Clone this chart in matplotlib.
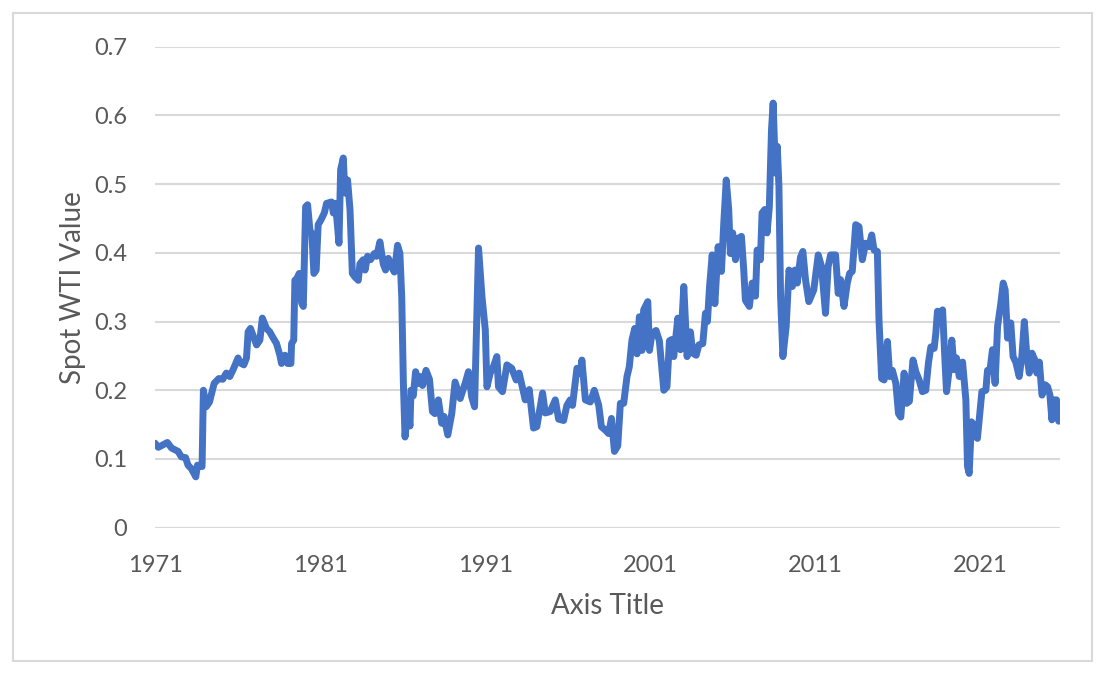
import matplotlib
matplotlib.use("Agg")
import matplotlib.pyplot as plt
from matplotlib.patches import Rectangle

# valores (ano decimal, valor)
years_70s = [1971.0, 1971.2, 1971.75, 1972.0, 1972.4, 1972.6, 1972.85, 1973.0, 1973.2, 1973.47,
             1973.57, 1973.85, 1973.93, 1974.1, 1974.3, 1974.58, 1974.86, 1975.1, 1975.32, 1975.53,
             1975.73, 1976.03, 1976.15, 1976.38, 1976.54, 1976.64, 1976.78, 1977.15, 1977.35, 1977.5,
             1977.75, 1977.95, 1978.11, 1978.36, 1978.56, 1978.66, 1978.87, 1979.03, 1979.23, 1979.27,
             1979.4, 1979.47, 1979.6, 1979.73, 1979.88, 1979.98]
values_70s = [0.123, 0.117, 0.124, 0.116, 0.111, 0.103, 0.102, 0.091, 0.086, 0.074,
              0.091, 0.089, 0.200, 0.176, 0.183, 0.210, 0.217, 0.216, 0.225, 0.220,
              0.230, 0.247, 0.240, 0.237, 0.247, 0.285, 0.290, 0.266, 0.273, 0.305,
              0.290, 0.285, 0.278, 0.268, 0.251, 0.239, 0.251, 0.239, 0.239, 0.268,
              0.273, 0.360, 0.363, 0.370, 0.327, 0.322]

years_80s = [1980.12, 1980.24, 1980.38, 1980.5, 1980.62, 1980.76, 1980.88, 1981.05, 1981.25, 1981.39,
             1981.69, 1981.8, 1981.9, 1982.0, 1982.14, 1982.24, 1982.4, 1982.5, 1982.66, 1982.81,
             1982.95, 1983.1, 1983.31, 1983.41, 1983.61, 1983.72, 1983.87, 1984.05, 1984.28, 1984.42,
             1984.62, 1984.82, 1984.96, 1985.13, 1985.33, 1985.49, 1985.69, 1985.83, 1985.94, 1986.04,
             1986.14, 1986.3, 1986.44, 1986.5, 1986.64, 1986.78, 1986.95, 1987.05, 1987.2, 1987.41,
             1987.62, 1987.8, 1987.95, 1988.16, 1988.36, 1988.5, 1988.73, 1988.97, 1989.17, 1989.48,
             1989.78, 1989.98]
values_80s = [0.467, 0.470, 0.433, 0.428, 0.370, 0.375, 0.441, 0.448, 0.458, 0.472,
              0.474, 0.458, 0.472, 0.453, 0.414, 0.521, 0.538, 0.487, 0.506, 0.462,
              0.370, 0.365, 0.360, 0.384, 0.390, 0.375, 0.395, 0.390, 0.399, 0.395,
              0.416, 0.384, 0.375, 0.392, 0.380, 0.372, 0.411, 0.399, 0.336, 0.210,
              0.132, 0.172, 0.148, 0.200, 0.192, 0.227, 0.210, 0.220, 0.207, 0.229,
              0.216, 0.169, 0.166, 0.186, 0.152, 0.162, 0.135, 0.166, 0.212, 0.188,
              0.210, 0.227]

years_90s = [1990.18, 1990.35, 1990.59, 1990.8, 1991.0, 1991.1, 1991.3, 1991.5, 1991.7, 1991.8,
             1992.04, 1992.31, 1992.6, 1992.87, 1993.05, 1993.42, 1993.66, 1993.92, 1994.12, 1994.47,
             1994.63, 1994.93, 1995.24, 1995.44, 1995.74, 1995.94, 1996.14, 1996.28, 1996.55, 1996.75,
             1996.85, 1997.06, 1997.36, 1997.6, 1997.87, 1998.03, 1998.27, 1998.47, 1998.64, 1998.82,
             1999.02, 1999.18, 1999.38, 1999.58, 1999.72, 1999.88]
values_90s = [0.190, 0.176, 0.407, 0.336, 0.288, 0.205, 0.225, 0.235, 0.249, 0.205,
              0.198, 0.237, 0.232, 0.215, 0.225, 0.186, 0.201, 0.145, 0.147, 0.196,
              0.167, 0.169, 0.186, 0.158, 0.156, 0.178, 0.186, 0.178, 0.232, 0.225,
              0.244, 0.186, 0.183, 0.200, 0.178, 0.147, 0.142, 0.137, 0.159, 0.111,
              0.119, 0.181, 0.181, 0.220, 0.234, 0.273]

years_00s = [2000.05, 2000.19, 2000.33, 2000.49, 2000.59, 2000.84, 2000.94, 2001.1, 2001.34, 2001.54,
             2001.81, 2002.0, 2002.15, 2002.31, 2002.41, 2002.66, 2002.82, 2003.02, 2003.22, 2003.42,
             2003.56, 2003.77, 2003.93, 2004.17, 2004.33, 2004.45, 2004.58, 2004.74, 2004.9, 2005.1,
             2005.3, 2005.44, 2005.59, 2005.74, 2005.84, 2005.98, 2006.15, 2006.31, 2006.51, 2006.65,
             2006.75, 2006.99, 2007.16, 2007.36, 2007.46, 2007.66, 2007.76, 2007.92, 2008.06, 2008.2,
             2008.33, 2008.43, 2008.57, 2008.68, 2008.78, 2008.88, 2009.02, 2009.22, 2009.39, 2009.59,
             2009.75, 2009.89]
values_00s = [0.290, 0.253, 0.307, 0.258, 0.317, 0.329, 0.258, 0.283, 0.287, 0.272,
              0.200, 0.205, 0.272, 0.274, 0.249, 0.305, 0.259, 0.351, 0.249, 0.285,
              0.254, 0.251, 0.266, 0.268, 0.312, 0.300, 0.351, 0.397, 0.326, 0.409,
              0.373, 0.443, 0.506, 0.463, 0.399, 0.429, 0.390, 0.421, 0.424, 0.375,
              0.331, 0.322, 0.356, 0.337, 0.404, 0.390, 0.458, 0.463, 0.429, 0.467,
              0.579, 0.618, 0.516, 0.555, 0.497, 0.337, 0.249, 0.293, 0.375, 0.351,
              0.375, 0.356]

years_10s = [2010.09, 2010.23, 2010.39, 2010.59, 2010.89, 2011.16, 2011.36, 2011.6, 2011.76, 2011.91,
             2012.21, 2012.37, 2012.51, 2012.72, 2012.92, 2013.06, 2013.22, 2013.43, 2013.63, 2013.83,
             2014.03, 2014.23, 2014.4, 2014.54, 2014.74, 2014.84, 2015.0, 2015.15, 2015.35, 2015.49,
             2015.65, 2015.86, 2016.02, 2016.16, 2016.36, 2016.52, 2016.68, 2016.77, 2016.9, 2017.07,
             2017.27, 2017.47, 2017.67, 2017.84, 2017.98, 2018.18, 2018.28, 2018.38, 2018.53, 2018.69,
             2018.85, 2018.93, 2019.09, 2019.25, 2019.39, 2019.53, 2019.7, 2019.9]
values_10s = [0.394, 0.402, 0.361, 0.329, 0.346, 0.397, 0.380, 0.312, 0.380, 0.397,
              0.397, 0.341, 0.361, 0.322, 0.356, 0.370, 0.373, 0.441, 0.438, 0.390,
              0.414, 0.409, 0.426, 0.404, 0.402, 0.302, 0.217, 0.215, 0.271, 0.220,
              0.229, 0.210, 0.166, 0.161, 0.225, 0.181, 0.184, 0.210, 0.244, 0.227,
              0.215, 0.198, 0.200, 0.241, 0.263, 0.261, 0.283, 0.315, 0.312, 0.317,
              0.235, 0.198, 0.230, 0.273, 0.230, 0.247, 0.220, 0.241]

years_20s = [2020.1, 2020.2, 2020.3, 2020.44, 2020.6, 2020.8, 2020.94, 2021.07, 2021.31, 2021.41,
             2021.55, 2021.71, 2021.87, 2022.02, 2022.22, 2022.36, 2022.48, 2022.62, 2022.82, 2022.96,
             2023.12, 2023.33, 2023.49, 2023.64, 2023.78, 2023.94, 2024.1, 2024.28, 2024.4, 2024.55,
             2024.71, 2024.91, 2025.05, 2025.19, 2025.31, 2025.45, 2025.59, 2025.72]
values_20s = [0.186, 0.089, 0.079, 0.154, 0.149, 0.130, 0.166, 0.198, 0.200, 0.229,
              0.227, 0.259, 0.210, 0.293, 0.327, 0.356, 0.346, 0.276, 0.298, 0.249,
              0.241, 0.220, 0.249, 0.300, 0.254, 0.225, 0.254, 0.244, 0.225, 0.241,
              0.193, 0.208, 0.205, 0.193, 0.157, 0.186, 0.186, 0.155]

tick_years = [1971, 1981, 1991, 2001, 2011, 2021]
y_ticks = [0, 0.1, 0.2, 0.3, 0.4, 0.5, 0.6, 0.7]

years = years_70s + years_80s + years_90s + years_00s + years_10s + years_20s
values = values_70s + values_80s + values_90s + values_00s + values_10s + values_20s

plt.rcParams['font.family'] = ['Lato', 'DejaVu Sans']
grey = "#595959"

fig = plt.figure(figsize=(11.06, 6.75), dpi=100)
ax = fig.add_axes([155/1106, 1 - 527.7/675, (1060-155)/1106, (527.7-46.7)/675])

# moldura exterior estilo Excel
fig.patches.append(Rectangle((13/1106, 1 - 661/675), (1092-13)/1106, (661-13)/675,
                             transform=fig.transFigure, fill=False,
                             edgecolor="#d9d9d9", linewidth=1.5))

ax.plot(years, values, color="#4472C4", linewidth=5,
        solid_joinstyle="round", solid_capstyle="round", zorder=3)

ax.set_xlim(1971, 2025.8)
ax.set_ylim(0, 0.7)
ax.set_yticks(y_ticks)
ax.set_yticklabels(["0" if v == 0 else f"{v:g}" for v in y_ticks])
ax.set_xticks(tick_years)
ax.set_xticklabels([str(y) for y in tick_years])

ax.grid(axis="y", color="#d9d9d9", linewidth=1.5)
ax.set_axisbelow(True)
for s in ax.spines.values():
    s.set_visible(False)
ax.tick_params(length=0, labelsize=17, colors=grey)
ax.tick_params(axis="y", pad=20)
ax.tick_params(axis="x", pad=20)

ax.set_xlabel("Axis Title", fontsize=20, color=grey, labelpad=12)
ax.set_ylabel("Spot WTI Value", fontsize=20, color=grey, labelpad=6)

fig.savefig("out.png", dpi=100)
